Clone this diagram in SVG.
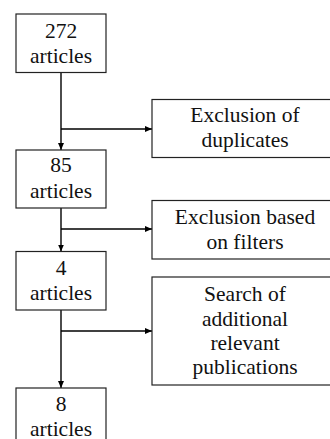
<svg xmlns="http://www.w3.org/2000/svg" width="330" height="439" viewBox="0 0 330 439">
<defs>
<marker id="ah" markerWidth="7" markerHeight="6" refX="7" refY="3" orient="auto" markerUnits="userSpaceOnUse">
<path d="M0,0 L7,3 L0,6 Z" fill="#000"/>
</marker>
<style>
.box{fill:#fff;stroke:#222;stroke-width:1.2}
.t{font-family:"Liberation Serif","Times New Roman",serif;font-size:21.5px;fill:#111;text-anchor:middle}
.c{stroke:#000;stroke-width:1.4;fill:none}
</style>
</defs>
<rect width="330" height="439" fill="#fff"/>
<g id="connectors">
<line class="c" x1="61" y1="73" x2="61" y2="150" marker-end="url(#ah)"/>
<line class="c" x1="61" y1="129" x2="152" y2="129" marker-end="url(#ah)"/>
<line class="c" x1="61" y1="208" x2="61" y2="251.5" marker-end="url(#ah)"/>
<line class="c" x1="61" y1="229" x2="152" y2="229" marker-end="url(#ah)"/>
<line class="c" x1="61" y1="310" x2="61" y2="388" marker-end="url(#ah)"/>
<line class="c" x1="61" y1="331" x2="152" y2="331" marker-end="url(#ah)"/>
</g>
<g id="n272">
<rect class="box" x="16" y="14" width="90" height="58.5"/>
<text class="t" x="61" y="37.5">272</text>
<text class="t" x="61" y="63">articles</text>
</g>
<g id="n85">
<rect class="box" x="16" y="150" width="90" height="58"/>
<text class="t" x="61" y="172">85</text>
<text class="t" x="61" y="197.5">articles</text>
</g>
<g id="n4">
<rect class="box" x="16" y="251.5" width="90" height="58.5"/>
<text class="t" x="61" y="274.5">4</text>
<text class="t" x="61" y="300">articles</text>
</g>
<g id="n8">
<rect class="box" x="16" y="388" width="90" height="60"/>
<text class="t" x="61" y="411">8</text>
<text class="t" x="61" y="435.5">articles</text>
</g>
<g id="dup">
<rect class="box" x="152" y="99.5" width="186" height="58"/>
<text class="t" x="245" y="122">Exclusion of</text>
<text class="t" x="245" y="147">duplicates</text>
</g>
<g id="filt">
<rect class="box" x="152" y="200.5" width="186" height="58.5"/>
<text class="t" x="245" y="223.5">Exclusion based</text>
<text class="t" x="245" y="248.5">on filters</text>
</g>
<g id="search">
<rect class="box" x="152" y="277" width="186" height="108"/>
<text class="t" x="245" y="301">Search of</text>
<text class="t" x="245" y="325.5">additional</text>
<text class="t" x="245" y="349.5">relevant</text>
<text class="t" x="245" y="373.5">publications</text>
</g>
</svg>
